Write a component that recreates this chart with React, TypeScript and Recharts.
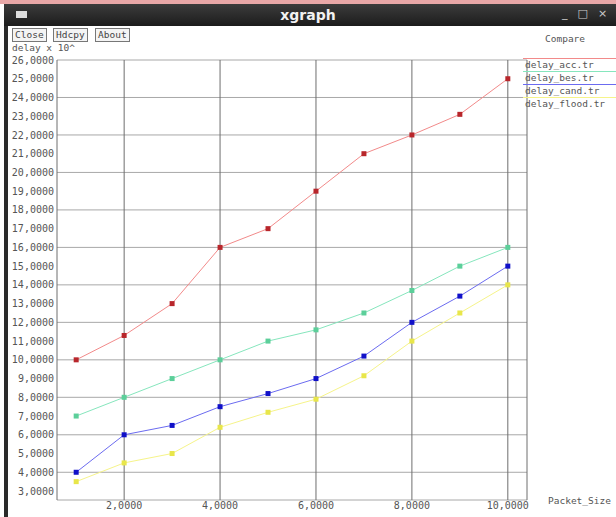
import React from "react";
import { LineChart, Line, XAxis, YAxis, CartesianGrid } from "recharts";

const packetSize = [1, 2, 3, 4, 5, 6, 7, 8, 9, 10];
const delayAcc = [10, 11.3, 13, 16, 17, 19, 21, 22, 23.1, 25];
const delayBes = [7, 8, 9, 10, 11, 11.6, 12.5, 13.7, 15, 16];
const delayCand = [4, 6, 6.5, 7.5, 8.2, 9, 10.2, 12, 13.4, 15];
const delayFlood = [3.5, 4.5, 5, 6.4, 7.2, 7.9, 9.15, 11, 12.5, 14];

const xTicks = [2, 4, 6, 8, 10];
const yTicks = [3, 4, 5, 6, 7, 8, 9, 10, 11, 12, 13, 14, 15, 16, 17, 18, 19, 20, 21, 22, 23, 24, 25, 26];

const series = [
  { key: "acc", name: "delay_acc.tr", line: "#f28a8a", dot: "#b8262b" },
  { key: "bes", name: "delay_bes.tr", line: "#86e6bd", dot: "#5ccf9a" },
  { key: "cand", name: "delay_cand.tr", line: "#6b6bf0", dot: "#1010c8" },
  { key: "flood", name: "delay_flood.tr", line: "#f6f48a", dot: "#e8e64a" },
];

const data = packetSize.map((x, i) => ({
  x,
  acc: delayAcc[i],
  bes: delayBes[i],
  cand: delayCand[i],
  flood: delayFlood[i],
}));

const fmt = (v: number) => v.toFixed(4).replace(".", ",");

const mono = "'DejaVu Sans Mono', 'Liberation Mono', monospace";

const squareDot = (color: string) => (props: any) => {
  const { cx, cy, index } = props;
  if (cx == null || cy == null) return <g key={index} />;
  return <rect key={index} x={cx - 2.5} y={cy - 2.5} width={5} height={5} fill={color} />;
};

const btn: React.CSSProperties = {
  position: "absolute",
  top: 28,
  height: 12,
  border: "1px solid #777",
  background: "#f4f4f4",
  fontFamily: mono,
  fontSize: 9.5,
  lineHeight: "12px",
  color: "#444",
  padding: "0 2px",
  boxSizing: "content-box",
};

// legend drawn beside the plot, like xgraph's dataset list
function LegendBox() {
  return (
    <div style={{ position: "absolute", left: 523, top: 58, width: 93, fontFamily: mono, fontSize: 9.5, color: "#555" }}>
      {series.map((s) => (
        <div key={s.key} style={{ borderTop: `1px solid ${s.line}`, height: 12, lineHeight: "12px", paddingLeft: 2 }}>
          {s.name}
        </div>
      ))}
    </div>
  );
}

export default function App() {
  return (
    <div style={{ position: "absolute", left: 0, top: 0, width: 616, height: 517, background: "#fff", overflow: "hidden" }}>
      {/* window frame */}
      <div style={{ position: "absolute", left: 0, top: 0, width: 616, height: 4, background: "#e9a8a8" }} />
      <div
        style={{
          position: "absolute",
          left: 4,
          top: 4,
          width: 612,
          height: 22,
          background: "linear-gradient(#3c3c3c, #1c1c1c)",
        }}
      />
      <div style={{ position: "absolute", left: 16, top: 11, width: 11, height: 7, background: "#ddd" }} />
      <div
        style={{
          position: "absolute",
          left: 0,
          top: 6,
          width: 616,
          textAlign: "center",
          color: "#f2f2f2",
          fontFamily: "'DejaVu Sans', sans-serif",
          fontWeight: "bold",
          fontSize: 14,
          lineHeight: "18px",
        }}
      >
        xgraph
      </div>
      <div style={{ position: "absolute", left: 562, top: 7, color: "#ccc", fontFamily: "'DejaVu Sans', sans-serif", fontSize: 11, letterSpacing: 10 }}>
        _□×
      </div>
      <div style={{ position: "absolute", left: 4, top: 26, width: 4, height: 491, background: "#2a2a2a" }} />

      <div style={{ ...btn, left: 12 }}>Close</div>
      <div style={{ ...btn, left: 53 }}>Hdcpy</div>
      <div style={{ ...btn, left: 95 }}>About</div>
      <div style={{ position: "absolute", left: 12, top: 42, fontFamily: mono, fontSize: 9.5, lineHeight: "11px", color: "#555" }}>delay x 10^</div>
      <div style={{ position: "absolute", left: 545, top: 33, fontFamily: mono, fontSize: 9.5, color: "#555" }}>Compare</div>
      <div style={{ position: "absolute", left: 548, top: 495, fontFamily: mono, fontSize: 9.5, color: "#555" }}>Packet_Size</div>

      <div style={{ position: "absolute", left: 0, top: 0 }}>
        <LineChart width={616} height={517} data={data} margin={{ top: 60, right: 89, bottom: 0, left: 0 }}>
          <CartesianGrid horizontal={true} vertical={false} stroke="#a8a8a8" />
          <CartesianGrid horizontal={false} vertical={true} stroke="#6e6e6e" />
          <XAxis
            type="number"
            dataKey="x"
            domain={[0.6, 10.4]}
            ticks={xTicks}
            allowDataOverflow
            height={17}
            tickLine={false}
            axisLine={false}
            tickSize={0}
            tickMargin={2}
            tickFormatter={fmt}
            tick={{ fontFamily: mono, fontSize: 10, fill: "#555" }}
          />
          <YAxis
            type="number"
            domain={[2.52, 26]}
            ticks={yTicks}
            allowDataOverflow
            width={57}
            tickLine={false}
            axisLine={false}
            tickSize={0}
            tickMargin={3}
            tickFormatter={fmt}
            tick={{ fontFamily: mono, fontSize: 10, fill: "#555" }}
          />
          {series.map((s) => (
            <Line
              key={s.key}
              dataKey={s.key}
              name={s.name}
              type="linear"
              stroke={s.line}
              strokeWidth={1}
              dot={squareDot(s.dot)}
              activeDot={false}
              isAnimationActive={false}
            />
          ))}
        </LineChart>
      </div>
      <LegendBox />
    </div>
  );
}
